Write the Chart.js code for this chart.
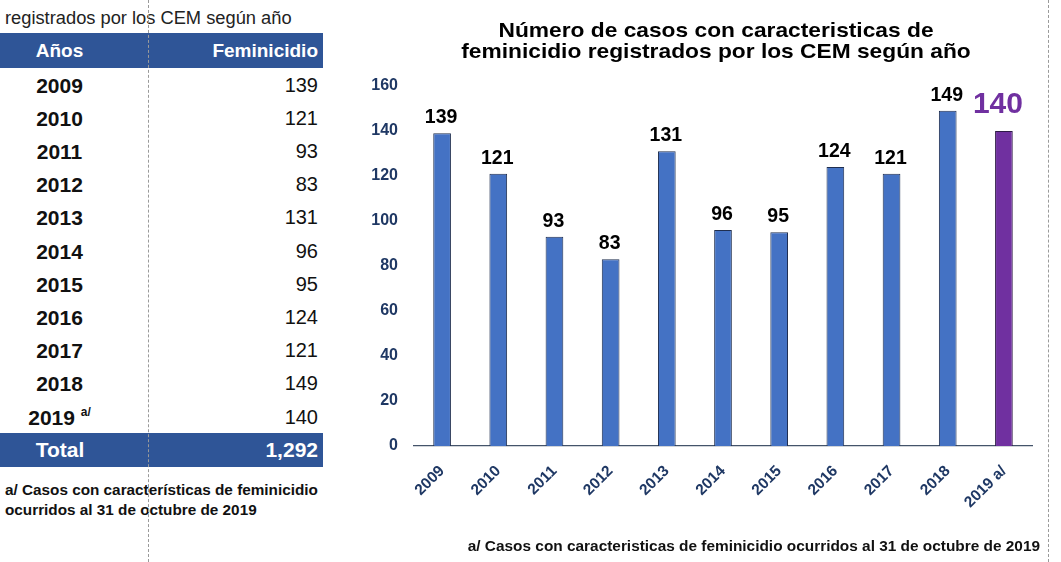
<!DOCTYPE html>
<html><head><meta charset="utf-8">
<script src="https://cdn.jsdelivr.net/npm/chart.js@4.4.1/dist/chart.umd.min.js"></script>
<style>
html,body{margin:0;padding:0}
body{width:1061px;height:562px;overflow:hidden;background:#fff;font-family:'Liberation Sans',Arial,sans-serif;position:relative}
.abs{position:absolute;white-space:nowrap}
.vdash{position:absolute;top:0;height:562px;width:0;border-left:1px dashed #9a9a9a}
.bar{position:absolute;left:0;width:323px;background:#2F5597}
#chartBox{position:absolute;left:350px;top:0;width:700px;height:562px}
#title{position:absolute;left:416px;top:20px;width:600px;text-align:center;font-size:20.5px;line-height:20.6px;font-weight:bold;color:#000;transform:scaleX(1.11);transform-origin:300px 0}
.sup{font-size:12px;position:relative;top:-9px;vertical-align:baseline;line-height:0}
</style></head><body>
<div class="abs" style="left:5px;top:7px;font-size:18.3px;color:#222">registrados por los CEM según año</div>
<div id="table"></div>
<div class="abs" style="left:5px;top:480px;font-size:15.3px;font-weight:bold;color:#111;line-height:20px">a/ Casos con características de feminicidio<br>ocurridos al 31 de octubre de 2019</div>
<div id="chartBox"><canvas id="c" width="700" height="562"></canvas></div>
<div id="title"></div>
<div class="abs" style="right:21px;top:537px;font-size:15.4px;line-height:18px;font-weight:bold;color:#111">a/ Casos con caracteristicas de feminicidio ocurridos al 31 de octubre de 2019</div>
<div class="vdash" style="left:148px"></div>
<div class="vdash" style="left:1048px"></div>
<script>
const categories = ['2009','2010','2011','2012','2013','2014','2015','2016','2017','2018','2019 a/'];
const tableYears = ['2009','2010','2011','2012','2013','2014','2015','2016','2017','2018','2019'];
const values = [139,121,93,83,131,96,95,124,121,149,140];
const yTicks = [0,20,40,60,80,100,120,140,160];
const titleLines = ['Número de casos con caracteristicas de','feminicidio registrados por los CEM según año'];
const tableHeader = ['Años','Feminicidio'];
const totalLabel = 'Total';

document.getElementById('title').innerHTML = titleLines.join('<br>');

// ---- table ----
(function(){
  const t = document.getElementById('table');
  const R = 1061-318;
  let html = '';
  html += '<div class="bar" style="top:33px;height:35px"></div>';
  html += '<div class="abs" style="left:0;width:119px;top:33px;height:35px;line-height:35px;text-align:center;color:#fff;font-weight:bold;font-size:19px">'+tableHeader[0]+'</div>';
  html += '<div class="abs" style="right:'+R+'px;top:33px;height:35px;line-height:35px;text-align:right;color:#fff;font-weight:bold;font-size:19px">'+tableHeader[1]+'</div>';
  tableYears.forEach((y,i)=>{
    const top = 85 + i*33.2 - 16.5;
    const last = i === tableYears.length-1;
    const lab = last ? y + ' <span class="sup">a/</span>' : y;
    html += '<div class="abs" style="left:0;width:119px;top:'+top+'px;height:33px;line-height:33px;text-align:center;color:#111;font-weight:bold;font-size:21px">'+lab+'</div>';
    html += '<div class="abs" style="right:'+R+'px;top:'+top+'px;height:33px;line-height:33px;text-align:right;color:#111;font-size:20px">'+values[i]+'</div>';
  });
  const total = values.reduce((a,b)=>a+b,0);
  html += '<div class="bar" style="top:433px;height:34px"></div>';
  html += '<div class="abs" style="left:0;width:120px;top:433px;height:34px;line-height:34px;text-align:center;color:#fff;font-weight:bold;font-size:21px">'+totalLabel+'</div>';
  html += '<div class="abs" style="right:'+R+'px;top:433px;height:34px;line-height:34px;text-align:right;color:#fff;font-weight:bold;font-size:21px">'+total.toLocaleString('en-US')+'</div>';
  t.innerHTML = html;
})();

// ---- chart ----
const FONT = "'Liberation Sans', Arial, sans-serif";
const valueLabels = {
  id:'valueLabels',
  afterDatasetsDraw(chart){
    const ctx = chart.ctx;
    const meta = chart.getDatasetMeta(0);
    meta.data.forEach((bar,i)=>{
      const last = i === values.length-1;
      ctx.save();
      ctx.font = 'bold ' + (last?30:19.5) + 'px ' + FONT;
      ctx.fillStyle = last ? '#7030A0' : '#000';
      ctx.textAlign = 'center';
      ctx.textBaseline = 'alphabetic';
      ctx.fillText(String(values[i]), bar.x + (last?-6:-1), bar.y - (last?18:10));
      ctx.restore();
    });
  }
};

new Chart(document.getElementById('c'), {
  type:'bar',
  data:{
    labels:categories,
    datasets:[{
      data:values,
      backgroundColor: values.map((v,i)=> i===values.length-1 ? '#7030A0' : '#4472C4'),
      borderColor: values.map((v,i)=> i===values.length-1 ? '#2E1A47' : '#1F2E4F'),
      borderWidth:1,
      categoryPercentage:1,
      barPercentage:0.315
    }]
  },
  options:{
    responsive:false,
    animation:false,
    devicePixelRatio:1,
    layout:{padding:{left:9,right:18,top:86,bottom:0}},
    plugins:{
      legend:{display:false},
      tooltip:{enabled:false},
      title:{display:false}
    },
    scales:{
      x:{
        grid:{display:false,drawTicks:false},
        border:{display:true,color:'#44546A',width:1.3},
        ticks:{minRotation:45,maxRotation:45,color:'#1F3864',font:{family:FONT,size:15.5,weight:'bold'},padding:16},
        afterFit:s=>{s.height=116;}
      },
      y:{
        min:0,max:160,
        afterBuildTicks:s=>{s.ticks = yTicks.map(v=>({value:v}));},
        grid:{display:false,drawTicks:false},
        border:{display:false},
        ticks:{color:'#1F3864',font:{family:FONT,size:16,weight:'bold'},padding:16},
        afterFit:s=>{s.width=55;}
      }
    }
  },
  plugins:[valueLabels]
});
</script>
</body></html>
